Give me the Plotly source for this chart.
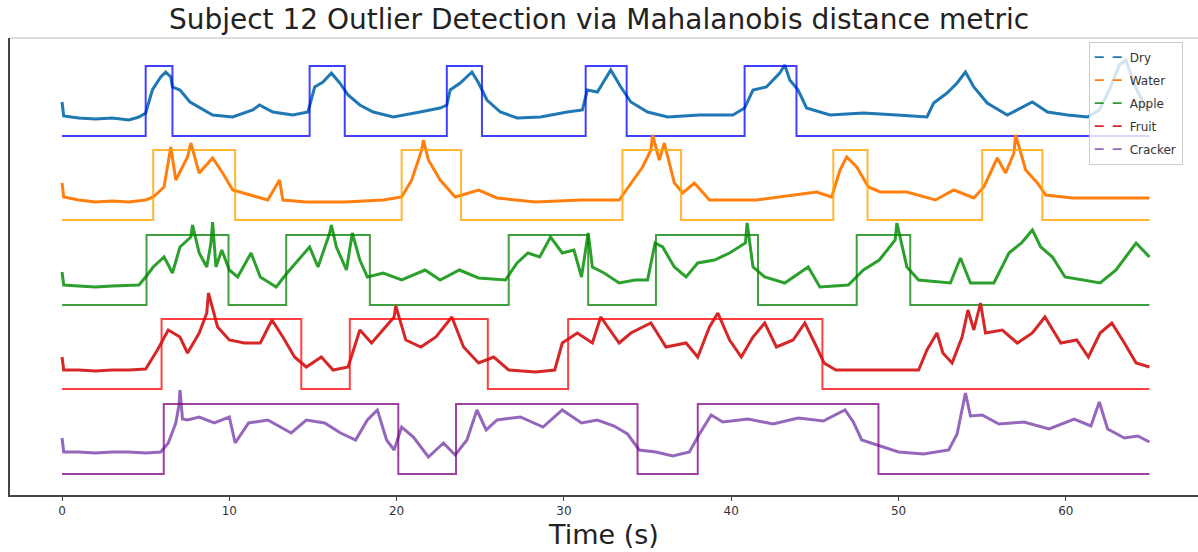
import plotly.graph_objects as go

# ---------------- data ----------------
# time (s) and Mahalanobis-distance signal per class (arbitrary units)
dry_t = [0, 0.1, 1, 2, 3, 4, 4.6, 5.0, 5.4, 5.9, 6.2, 6.5, 6.6, 7.05, 7.65, 8.25, 9.0, 10.2, 11.4, 11.8,
         12.6, 13.8, 14.7, 15.1, 15.6, 16.1, 16.6, 17.1, 17.8, 18.6, 19.8, 21.4, 22.6, 23.0, 23.2, 23.8,
         24.5, 24.9, 25.4, 26.2, 27.2, 28.6, 30.2, 31.1, 31.4, 32.0, 32.8, 33.4, 34.0, 35.0, 36.2, 38.1,
         40.1, 40.8, 41.3, 42.1, 42.9, 43.2, 43.5, 44.0, 44.5, 45.9, 47.9, 49.9, 51.7, 52.1, 52.9, 53.5,
         54.0, 54.5, 55.3, 56.5, 57.3, 58.0, 58.9, 60.1, 61.3, 62.0, 62.6, 63.2, 63.6, 64.1, 64.7, 65.0]
dry_v = [34, 20, 18, 17, 18, 16, 19, 23, 46, 59, 64, 59, 49, 46, 34, 28, 21, 19, 26, 31,
         24, 21, 24, 49, 54, 63, 53, 41, 31, 24, 19, 24, 28, 31, 46, 53,
         64, 53, 36, 24, 18, 19, 24, 26, 46, 44, 66, 49, 34, 24, 19, 21,
         21, 28, 46, 49, 63, 71, 56, 46, 28, 21, 23, 21, 19, 33, 43, 53,
         64, 49, 33, 21, 28, 34, 24, 21, 19, 26, 46, 71, 76, 51, 31, 24]

water_t = [0, 0.1, 1, 2, 3, 4, 5.0, 5.45, 6.1, 6.5, 6.8, 7.5, 7.7, 8.2, 9.0, 9.6, 10.2, 11.2, 12.3, 13.0,
           13.2, 14.6, 16.9, 19.2, 20.3, 20.9, 21.5, 21.6, 21.9, 22.6, 23.5, 24.9, 26.0, 28.3, 31.0, 33.3,
           34.0, 34.7, 35.2, 35.3, 35.7, 36.0, 36.6, 37.1, 37.8, 38.7, 41.5, 43.9, 45.1, 46.0, 46.5, 46.9,
           47.5, 48.2, 48.9, 50.5, 52.2, 53.3, 54.5, 55.1, 55.9, 56.4, 56.9, 57.0, 57.6, 58.3, 58.8, 60.4,
           62.8, 65.0]
water_v = [37, 23, 20, 18, 19, 18, 20, 23, 33, 73, 40, 63, 77, 47, 62, 47, 30, 25, 20, 40,
           20, 18, 18, 20, 23, 40, 70, 80, 60, 40, 23, 30, 22, 18, 20, 20,
           37, 53, 70, 85, 60, 77, 37, 27, 37, 20, 20, 25, 28, 23, 50, 63,
           53, 33, 28, 28, 20, 30, 22, 33, 62, 47, 67, 85, 50, 37, 25, 22,
           22, 22]

apple_t = [0, 0.1, 1, 2, 3, 4, 4.6, 5.0, 5.45, 6.1, 6.6, 7.05, 7.7, 7.8, 8.2, 8.65, 8.9, 9.0, 9.2, 9.55,
           10.0, 10.5, 11.3, 11.85, 12.8, 13.45, 14.1, 14.8, 15.3, 16.0, 16.1, 16.4, 17.0, 17.35, 17.8, 18.25,
           19.2, 20.3, 21.7, 22.6, 23.75, 24.9, 26.5, 27.2, 27.85, 28.55, 29.2, 29.9, 30.6, 31.05, 31.45, 31.7,
           32.4, 33.3, 34.25, 35.0, 35.45, 35.9, 36.6, 37.3, 38.0, 39.0, 39.9, 40.85, 40.95, 41.3, 42.0, 43.2,
           44.6, 45.3, 47.0, 47.9, 48.85, 49.8, 49.9, 50.5, 51.2, 53.1, 53.7, 54.3, 55.7, 56.6, 57.35, 58.0,
           58.5, 59.2, 59.95, 61.1, 62.05, 63.0, 64.2, 65.0]
apple_v = [33, 20, 19, 18, 19, 20, 20, 28, 38, 48, 32, 58, 68, 80, 52, 38, 62, 83, 38, 55,
           35, 28, 52, 28, 18, 32, 45, 58, 38, 72, 80, 58, 35, 72, 45, 28,
           32, 25, 35, 25, 35, 27, 25, 42, 52, 48, 68, 52, 55, 28, 72, 38,
           32, 22, 25, 25, 62, 58, 38, 28, 42, 45, 52, 62, 82, 38, 28, 22,
           38, 18, 20, 35, 45, 65, 82, 38, 25, 22, 47, 22, 22, 52, 62, 75,
           58, 48, 28, 25, 22, 35, 62, 48]

fruit_t = [0, 0.1, 1, 2, 3, 4, 5.0, 5.7, 6.35, 7.05, 7.5, 8.2, 8.65, 8.75, 9.3, 10.0, 10.9, 11.85, 12.55, 13.2,
           13.9, 14.6, 15.5, 16.2, 17.1, 17.8, 18.5, 19.2, 19.85, 19.95, 20.55, 21.45, 22.35, 23.3, 24.0, 24.9,
           25.8, 26.7, 28.3, 29.45, 29.9, 30.8, 31.7, 32.2, 33.3, 34.0, 35.2, 36.1, 37.3, 38.0, 38.7, 39.2,
           39.9, 40.6, 41.3, 42.0, 42.7, 43.7, 44.4, 45.1, 45.55, 46.25, 48.6, 51.2, 51.7, 52.3, 52.65, 53.2,
           53.8, 54.15, 54.5, 54.9, 55.2, 56.2, 57.1, 58.0, 58.75, 59.7, 60.65, 61.35, 62.05, 62.75, 63.5, 64.2,
           65.0]
fruit_v = [32, 19, 19, 18, 19, 19, 20, 39, 59, 52, 36, 56, 76, 96, 62, 49, 46, 46, 69, 52,
           32, 22, 32, 19, 22, 59, 46, 59, 72, 83, 49, 42, 52, 72, 42, 26,
           32, 19, 17, 19, 46, 56, 46, 72, 46, 56, 66, 42, 46, 32, 62, 76,
           49, 32, 52, 66, 42, 49, 66, 42, 26, 19, 19, 19, 39, 56, 36, 26,
           52, 79, 59, 86, 56, 59, 46, 56, 72, 46, 49, 32, 56, 66, 46, 26,
           22]

cracker_t = [0, 0.1, 1, 2, 3, 4, 5, 5.9, 6.35, 6.8, 7.0, 7.05, 7.2, 7.5, 8.2, 9.1, 10.0, 10.35, 11.15, 12.3,
             13.7, 14.6, 15.7, 16.65, 17.55, 18.25, 18.85, 19.4, 19.85, 20.3, 21.0, 21.9, 22.8, 23.5, 24.2, 24.8,
             25.35, 26.0, 27.4, 28.75, 29.9, 31.05, 32.0, 33.0, 33.8, 34.5, 35.5, 36.5, 37.5, 38.1, 38.8, 39.5,
             41.0, 42.5, 44.0, 45.5, 46.8, 47.3, 47.8, 48.9, 50.0, 51.5, 53.0, 53.5, 54.0, 54.3, 55.0, 56.0,
             57.5, 59.0, 60.5, 61.5, 62.0, 62.5, 63.5, 64.3, 65.0]
cracker_v = [36, 22, 22, 21, 22, 22, 21, 22, 31, 51, 70, 84, 55, 54, 57, 51, 57, 31, 51, 54,
             41, 54, 51, 41, 34, 54, 64, 34, 24, 47, 37, 17, 31, 19, 34, 64,
             44, 54, 57, 47, 64, 51, 54, 48, 40, 24, 22, 18, 22, 40, 59, 52,
             55, 50, 56, 53, 64, 52, 34, 28, 22, 20, 24, 40, 81, 58, 59, 50,
             52, 45, 55, 48, 72, 45, 36, 38, 32]

# ground-truth labels (step functions): change times and 0/1 state
dry_lab_t = [0, 5.0, 6.6, 14.8, 16.9, 23.0, 25.1, 31.3, 33.75, 40.8, 43.9, 65.0]
dry_lab_v = [0, 1, 0, 1, 0, 1, 0, 1, 0, 1, 0, 0]
water_lab_t = [0, 5.45, 10.35, 20.3, 23.85, 33.5, 37.0, 46.1, 48.15, 55.0, 58.6, 65.0]
water_lab_v = [0, 1, 0, 1, 0, 1, 0, 1, 0, 1, 0, 0]
apple_lab_t = [0, 5.05, 9.95, 13.4, 18.4, 26.7, 31.45, 35.5, 41.6, 47.5, 50.7, 65.0]
apple_lab_v = [0, 1, 0, 1, 0, 1, 0, 1, 0, 1, 0, 0]
fruit_lab_t = [0, 5.95, 14.3, 17.2, 25.45, 30.25, 45.45, 65.0]
fruit_lab_v = [0, 1, 0, 1, 0, 1, 0, 0]
cracker_lab_t = [0, 6.08, 20.1, 23.55, 34.4, 38.0, 48.8, 65.0]
cracker_lab_v = [0, 1, 0, 1, 0, 1, 0, 0]

names = ["Dry", "Water", "Apple", "Fruit", "Cracker"]
x_ticks = [0, 10, 20, 30, 40, 50, 60]

# ---------------- styling ----------------
sig_colors = ["#1f77b4", "#ff7f0e", "#2ca02c", "#d62728", "#9467bd"]
lab_colors = ["rgba(0,0,255,0.75)", "rgba(255,165,0,0.8)", "rgba(0,128,0,0.75)",
              "rgba(255,0,0,0.75)", "rgba(128,0,128,0.75)"]
ROW_OFFSET = [338, 254, 169, 85, 0]   # vertical stacking of the rows
LABEL_HIGH = 70                        # drawn height of the label step

series = [(dry_t, dry_v, dry_lab_t, dry_lab_v),
          (water_t, water_v, water_lab_t, water_lab_v),
          (apple_t, apple_v, apple_lab_t, apple_lab_v),
          (fruit_t, fruit_v, fruit_lab_t, fruit_lab_v),
          (cracker_t, cracker_v, cracker_lab_t, cracker_lab_v)]

fig = go.Figure()
for i, (t, v, lt, lv) in enumerate(series):
    assert len(t) == len(v), (names[i], len(t), len(v))
    assert len(lt) == len(lv)
    off = ROW_OFFSET[i]
    fig.add_trace(go.Scatter(
        x=t, y=[val + off for val in v], mode="lines",
        line=dict(color=sig_colors[i], width=3),
        showlegend=False, hoverinfo="skip"))
    fig.add_trace(go.Scatter(
        x=lt, y=[s * LABEL_HIGH + off for s in lv], mode="lines",
        line=dict(color=lab_colors[i], width=2, shape="hv"),
        showlegend=False, hoverinfo="skip"))

# legend entries (dashed handles, like the original)
for i, n in enumerate(names):
    fig.add_trace(go.Scatter(
        x=[None], y=[None], mode="lines", name=n, legendgroup=n,
        line=dict(color=sig_colors[i], width=1.6, dash="dash")))

fig.update_layout(
    width=1198, height=552,
    margin=dict(l=10, r=0, t=38, b=57),
    paper_bgcolor="white", plot_bgcolor="white",
    font=dict(family="DejaVu Sans", color="#222"),
    title=dict(text="Subject 12 Outlier Detection via Mahalanobis distance metric",
               x=0.5, xref="container", xanchor="center",
               y=1 - 19 / 552, yref="container", yanchor="middle",
               font=dict(size=28, color="#222")),
    legend=dict(x=0.908, y=0.992, xanchor="left", yanchor="top",
                bgcolor="rgba(255,255,255,0.8)", bordercolor="#cccccc", borderwidth=1,
                font=dict(size=12, color="#333"), traceorder="grouped",
                tracegroupgap=4, itemwidth=30),
    xaxis=dict(range=[-3.11, 67.9], tickvals=x_ticks, ticktext=[str(v) for v in x_ticks],
               showgrid=False, zeroline=False, showline=True, linecolor="#444", linewidth=1.5,
               ticks="outside", ticklen=4, tickcolor="#444", tickfont=dict(size=12, color="#333"),
               title=dict(text="Time (s)", font=dict(size=27, color="#222"), standoff=8)),
    yaxis=dict(range=[-21, 436], showticklabels=False, showgrid=False, zeroline=False,
               showline=True, linecolor="#444", linewidth=1.5, ticks=""),
    shapes=[dict(type="line", xref="paper", yref="paper", x0=0, x1=1, y0=1, y1=1,
                 line=dict(color="#bbbbbb", width=1.2))],
)

fig.write_html("out.html")
